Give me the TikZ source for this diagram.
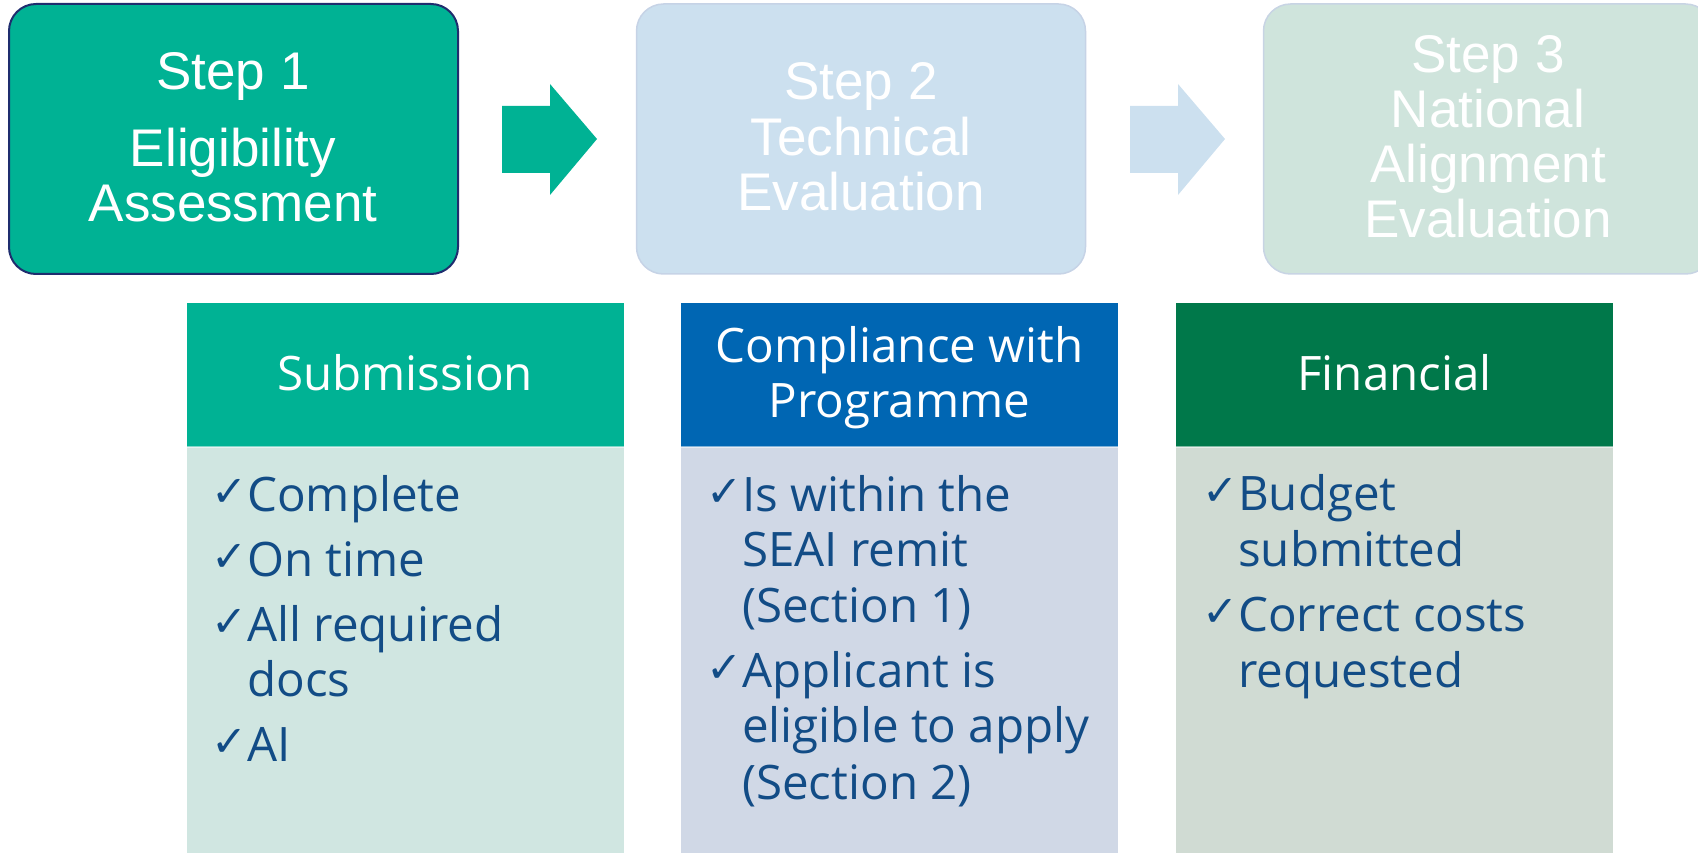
\documentclass[tikz,border=0pt]{standalone}
\usepackage{fontspec}
\newfontfamily\stepfont{Liberation Sans}
\newfontfamily\bodyfont{Open Sans}
\newfontfamily\symfont{DejaVu Sans}
\definecolor{teal1}{HTML}{00B294}
\definecolor{navy1}{HTML}{1F2D6E}
\definecolor{blue2}{HTML}{CCE0EF}
\definecolor{blue2e}{HTML}{C6D3E6}
\definecolor{green3}{HTML}{CFE4DC}
\definecolor{green3e}{HTML}{C8D4E4}
\definecolor{hdrblue}{HTML}{0066B3}
\definecolor{hdrgreen}{HTML}{00784A}
\definecolor{bodyA}{HTML}{D0E6E1}
\definecolor{bodyB}{HTML}{D0D8E6}
\definecolor{bodyC}{HTML}{D0DBD3}
\definecolor{itemblue}{HTML}{124C86}
\tikzset{
  stepbox/.style={rounded corners=27pt, minimum width=449pt, minimum height=270pt, inner sep=0pt},
  steptext/.style={font=\stepfont\fontsize{53}{55}\selectfont, text=white, inner sep=0pt, anchor=base},
  hdrbox/.style={minimum width=437pt, minimum height=144pt, inner sep=0pt},
  bodybox/.style={minimum width=437pt, minimum height=410pt, inner sep=0pt, anchor=north},
  hdrtext/.style={font=\bodyfont\fontsize{47.5}{51}\selectfont, text=white, inner sep=0pt, anchor=base},
  itemtext/.style={font=\bodyfont\fontsize{47.5}{51}\selectfont, text=itemblue, inner sep=0pt, anchor=base west},
  chk/.style={font=\symfont\bfseries\fontsize{43}{43}\selectfont, text=itemblue, inner sep=0pt, anchor=base west}
}
\begin{document}
\begin{tikzpicture}[x=1pt,y=-1pt]
\useasboundingbox (0,0) rectangle (1698,853);
\clip (0,0) rectangle (1698,853);
% step boxes
\node[stepbox, fill=teal1, draw=navy1, line width=2pt] (s1) at (233.5,139) {};
\node[stepbox, fill=blue2, draw=blue2e, line width=1.5pt] (s2) at (861,139) {};
\node[stepbox, fill=green3, draw=green3e, line width=1.5pt] (s3) at (1488,139) {};
% block arrows
\fill[teal1] (502,106) -- (550,106) -- (550,84) -- (597,139) -- (550,195) -- (550,173) -- (502,173) -- cycle;
\fill[blue2] (1130,106) -- (1178,106) -- (1178,84) -- (1225,139) -- (1178,195) -- (1178,173) -- (1130,173) -- cycle;
% step texts
\node[steptext] (s1a) at (233,90) {Step 1};
\node[steptext] (s1b) at (233,167) {Eligibility};
\node[steptext] (s1c) at (233,222) {Assessment};
\node[steptext] (s2a) at (861,100) {Step 2};
\node[steptext] (s2b) at (861,156) {Technical};
\node[steptext] (s2c) at (861,211) {Evaluation};
\node[steptext] (s3a) at (1488,73) {Step 3};
\node[steptext] (s3b) at (1488,128) {National};
\node[steptext] (s3c) at (1488,183) {Alignment};
\node[steptext] (s3d) at (1488,238) {Evaluation};
% lower columns
\node[hdrbox, fill=teal1] (h1) at (405,375) {};
\node[hdrbox, fill=hdrblue] (h2) at (899.5,375) {};
\node[hdrbox, fill=hdrgreen] (h3) at (1394.5,375) {};
\node[bodybox, fill=bodyA] (b1) at (h1.south) {};
\node[bodybox, fill=bodyB] (b2) at (h2.south) {};
\node[bodybox, fill=bodyC] (b3) at (h3.south) {};
\draw[white, opacity=0.5, line width=1.5pt] (h1.south west) -- (h1.south east);
\draw[white, opacity=0.5, line width=1.5pt] (h2.south west) -- (h2.south east);
\draw[white, opacity=0.5, line width=1.5pt] (h3.south west) -- (h3.south east);
% header texts
\node[hdrtext] (h1t) at (405,390.5) {Submission};
\node[hdrtext] (h2t1) at (899.5,362) {Compliance with};
\node[hdrtext] (h2t2) at (899.5,417.5) {Programme};
\node[hdrtext] (h3t) at (1394.5,390.5) {Financial};
% column 1 items
\node[chk] (k11) at (211,506) {✓};
\node[itemtext] (i11) at (247,511) {Complete};
\node[chk] (k12) at (211,571) {✓};
\node[itemtext] (i12) at (247,576) {On time};
\node[chk] (k13) at (211,636) {✓};
\node[itemtext] (i13) at (247,641) {All required};
\node[itemtext] (i13b) at (247,696) {docs};
\node[chk] (k14) at (211,756) {✓};
\node[itemtext] (i14) at (247,761) {AI};
% column 2 items
\node[chk] (k21) at (706,506) {✓};
\node[itemtext] (i21) at (742,511) {Is within the};
\node[itemtext] (i21b) at (742,566.5) {SEAI remit};
\node[itemtext] (i21c) at (742,622) {(Section 1)};
\node[chk] (k22) at (706,682.5) {✓};
\node[itemtext] (i22) at (742,687.5) {Applicant is};
\node[itemtext] (i22b) at (742,742) {eligible to apply};
\node[itemtext] (i22c) at (742,799) {(Section 2)};
% column 3 items
\node[chk] (k31) at (1202,505) {✓};
\node[itemtext] (i31) at (1238,510) {Budget};
\node[itemtext] (i31b) at (1238,566.5) {submitted};
\node[chk] (k32) at (1202,626) {✓};
\node[itemtext] (i32) at (1238,631) {Correct costs};
\node[itemtext] (i32b) at (1238,687) {requested};
\end{tikzpicture}
\end{document}
